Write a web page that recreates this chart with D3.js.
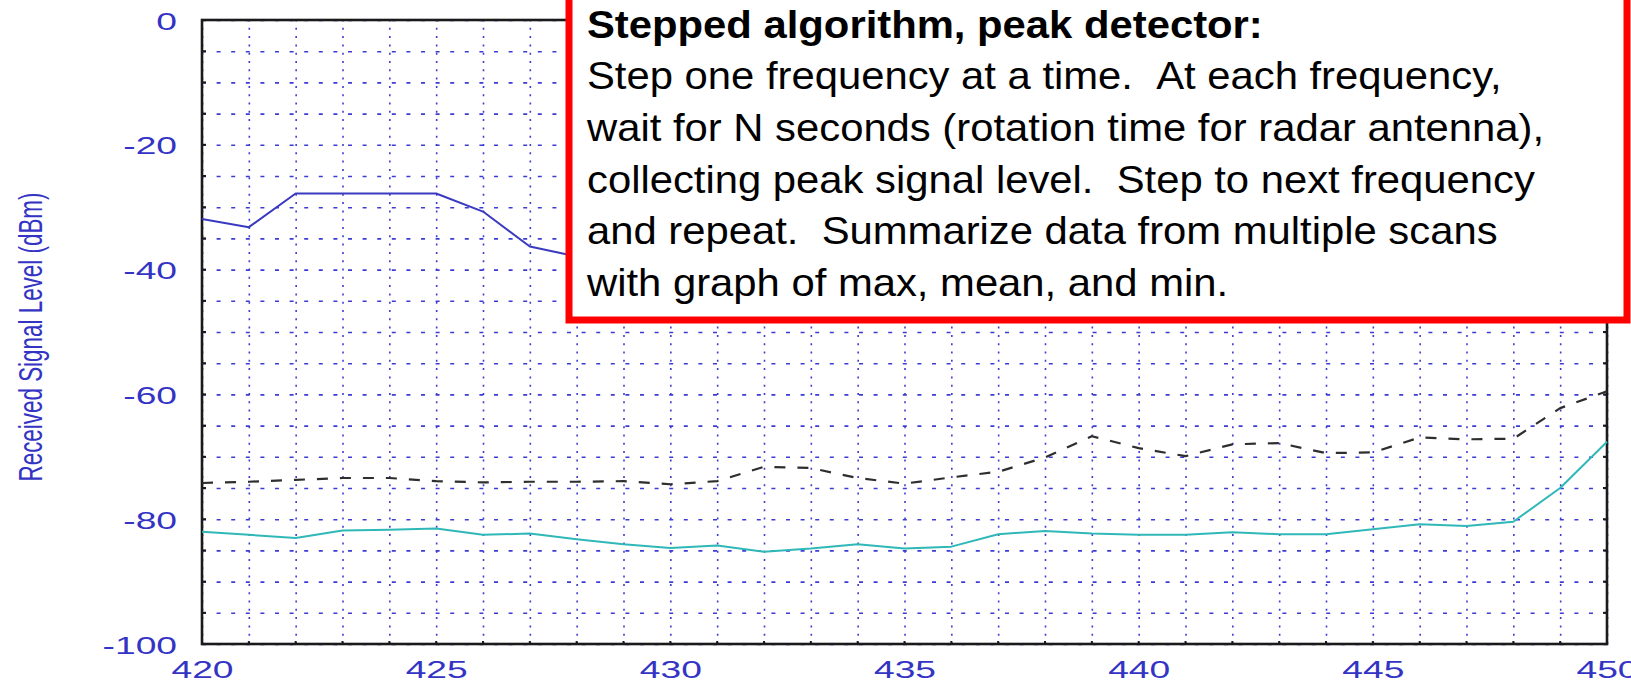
<!DOCTYPE html>
<html>
<head>
<meta charset="utf-8">
<script src="https://cdn.jsdelivr.net/npm/d3@7"></script>
<style>
html, body { margin: 0; padding: 0; background: #fff; overflow: hidden; }
svg { display: block; }
</style>
</head>
<body>
<svg class="rend_chart"></svg>
<script>
/////////////// data ////////////////
const FREQ_MHZ = [420, 421, 422, 423, 424, 425, 426, 427, 428, 429, 430,
    431, 432, 433, 434, 435, 436, 437, 438, 439, 440,
    441, 442, 443, 444, 445, 446, 447, 448, 449, 450];
// max trace: only 420..427 is visible, the rest sits behind the note box
const MAX_DBM = [-31.9, -33.2, -27.8, -27.8, -27.8, -27.8, -30.7, -36.3, -37.9, -39.0, -40.5,
    -41.0, -42.0, -41.0, -43.0, -44.0, -42.0, -41.0, -40.0, -39.0, -37.0,
    -38.0, -36.0, -37.0, -35.0, -34.0, -36.0, -35.0, -33.0, -32.0, -30.0];
const MEAN_DBM = [-74.2, -74.0, -73.7, -73.4, -73.4, -73.9, -74.1, -74.0, -74.0, -73.9, -74.4,
    -73.9, -71.6, -71.8, -73.4, -74.3, -73.3, -72.4, -70.1, -66.7, -68.6,
    -69.9, -68.0, -67.8, -69.4, -69.3, -66.9, -67.2, -67.1, -62.2, -59.5];
const MIN_DBM = [-82.0, -82.5, -83.0, -81.8, -81.7, -81.5, -82.5, -82.3, -83.2, -84.0, -84.6,
    -84.2, -85.2, -84.7, -84.0, -84.7, -84.4, -82.4, -81.9, -82.3, -82.5,
    -82.5, -82.1, -82.4, -82.4, -81.6, -80.8, -81.1, -80.4, -75.0, -67.6];
const X_TICKS = [420, 425, 430, 435, 440, 445, 450];
const Y_TICKS = [0, -20, -40, -60, -80, -100];
const Y_TITLE = "Received Signal Level (dBm)";
const NOTE_TITLE = "Stepped algorithm, peak detector:";
const NOTE_LINES = [
    "Step one frequency at a time.  At each frequency,",
    "wait for N seconds (rotation time for radar antenna),",
    "collecting peak signal level.  Step to next frequency",
    "and repeat.  Summarize data from multiple scans",
    "with graph of max, mean, and min."
];

/////////////// layout ////////////////
const SVG_W = 1631;
const SVG_H = 682;
const PLOT_L = 202;
const PLOT_R = 1607;
const PLOT_T = 20;
const PLOT_B = 644;
const LABEL_FILL = "#3434c4";
const GRID_STROKE = "#3c3cd4";
const FRAME_STROKE = "#1a1a1a";
const LABEL_FONT = "'Liberation Sans', Arial, Helvetica, sans-serif";
// the pasted chart was stretched sideways, so its digits are wide
const LABEL_STRETCH = 1.55;

const SVG = d3.select(".rend_chart")
    .attr("width", SVG_W)
    .attr("height", SVG_H);

const SCL_X = d3.scaleLinear()
    .domain([420, 450])
    .range([PLOT_L, PLOT_R]);
const SCL_Y = d3.scaleLinear()
    .domain([-100, 0])
    .range([PLOT_B, PLOT_T]);

/////////////// grid ////////////////
const GRID_GRP = SVG.append("g").attr("id", "gridGroup");
// vertical dotted lines every MHz
GRID_GRP.append("g")
    .attr("transform", `translate(0, ${PLOT_B})`)
    .call(d3.axisBottom(SCL_X).tickValues(FREQ_MHZ).tickSize(-(PLOT_B - PLOT_T)).tickFormat(""))
    .call(g => g.select(".domain").remove())
    .selectAll("line")
    .attr("stroke", GRID_STROKE)
    .attr("stroke-width", 1.6)
    .attr("stroke-dasharray", "2,6.3");
// horizontal dashed lines every 5 dB
GRID_GRP.append("g")
    .attr("transform", `translate(${PLOT_L}, 0)`)
    .call(d3.axisLeft(SCL_Y).ticks(20).tickSize(-(PLOT_R - PLOT_L)).tickFormat(""))
    .call(g => g.select(".domain").remove())
    .selectAll("line")
    .attr("stroke", GRID_STROKE)
    .attr("stroke-width", 1.6)
    .attr("stroke-dasharray", "4,10.6");

/////////////// frame and small inner ticks ////////////////
const FRAME_GRP = SVG.append("g").attr("id", "frameGroup");
FRAME_GRP.append("rect")
    .attr("x", PLOT_L)
    .attr("y", PLOT_T)
    .attr("width", PLOT_R - PLOT_L)
    .attr("height", PLOT_B - PLOT_T)
    .attr("fill", "none")
    .attr("stroke", FRAME_STROKE)
    .attr("stroke-width", 2.6);
FRAME_GRP.selectAll(".tickL")
    .data(SCL_Y.ticks(20))
    .enter()
    .append("line")
    .attr("x1", PLOT_L).attr("x2", PLOT_L + 4)
    .attr("y1", d => SCL_Y(d)).attr("y2", d => SCL_Y(d))
    .attr("stroke", FRAME_STROKE).attr("stroke-width", 2);
FRAME_GRP.selectAll(".tickR")
    .data(SCL_Y.ticks(20))
    .enter()
    .append("line")
    .attr("x1", PLOT_R - 4).attr("x2", PLOT_R)
    .attr("y1", d => SCL_Y(d)).attr("y2", d => SCL_Y(d))
    .attr("stroke", FRAME_STROKE).attr("stroke-width", 2);
FRAME_GRP.selectAll(".tickB")
    .data(FREQ_MHZ)
    .enter()
    .append("line")
    .attr("x1", d => SCL_X(d)).attr("x2", d => SCL_X(d))
    .attr("y1", PLOT_B - 3).attr("y2", PLOT_B)
    .attr("stroke", FRAME_STROKE).attr("stroke-width", 2);

/////////////// tick labels ////////////////
// plain hyphen for the minus sign, as on the original plot
const FMT_TICK = d => String(d);
const X_AXIS = SVG.append("g")
    .attr("transform", `translate(0, ${PLOT_B})`)
    .call(d3.axisBottom(SCL_X).tickValues(X_TICKS).tickSize(0).tickPadding(0).tickFormat(FMT_TICK));
X_AXIS.select(".domain").remove();
X_AXIS.selectAll("text")
    .attr("y", 34)
    .attr("dy", null)
    .attr("transform", `scale(${LABEL_STRETCH}, 1)`)
    .attr("fill", LABEL_FILL)
    .attr("font-family", LABEL_FONT)
    .attr("font-size", 24);

const Y_AXIS = SVG.append("g")
    .attr("transform", `translate(${PLOT_L}, 0)`)
    .call(d3.axisLeft(SCL_Y).tickValues(Y_TICKS).tickSize(0).tickPadding(0).tickFormat(FMT_TICK));
Y_AXIS.select(".domain").remove();
Y_AXIS.selectAll("text")
    .attr("x", -25 / LABEL_STRETCH)
    .attr("dy", null)
    .attr("y", 9)
    .attr("transform", `scale(${LABEL_STRETCH}, 1)`)
    .attr("fill", LABEL_FILL)
    .attr("font-family", LABEL_FONT)
    .attr("font-size", 24);

SVG.append("text")
    .attr("transform", `translate(42, 337) rotate(-90)`)
    .attr("text-anchor", "middle")
    .attr("font-family", LABEL_FONT)
    .attr("font-size", 34)
    .attr("fill", LABEL_FILL)
    .attr("textLength", 289)
    .attr("lengthAdjust", "spacingAndGlyphs")
    .text(Y_TITLE);

/////////////// traces ////////////////
const LINE = d3.line()
    .x(d => SCL_X(d[0]))
    .y(d => SCL_Y(d[1]));
const TRACES = [
    { vals: MAX_DBM, stroke: "#3a3ac0", dash: null, w: 2 },
    { vals: MEAN_DBM, stroke: "#2e2e2e", dash: "11,12", w: 2.2 },
    { vals: MIN_DBM, stroke: "#30b8b8", dash: null, w: 2 }
];
const TRACE_GRP = SVG.append("g").attr("id", "traceGroup");
TRACES.forEach(t => {
    TRACE_GRP.append("path")
        .datum(d3.zip(FREQ_MHZ, t.vals))
        .attr("d", LINE)
        .attr("fill", "none")
        .attr("stroke", t.stroke)
        .attr("stroke-width", t.w)
        .attr("stroke-dasharray", t.dash)
        .attr("stroke-linejoin", "round");
});

/////////////// note box ////////////////
const NOTE_GRP = SVG.append("g").attr("id", "noteGroup");
NOTE_GRP.append("rect")
    .attr("x", 569)
    .attr("y", -20)
    .attr("width", 1058)
    .attr("height", 340)
    .attr("fill", "#fff")
    .attr("stroke", "#ff0000")
    .attr("stroke-width", 7);
const NOTE_STRETCH = 1.1;
const NOTE_TXT = NOTE_GRP.append("g")
    .attr("transform", `translate(587, 0) scale(${NOTE_STRETCH}, 1)`)
    .attr("font-family", LABEL_FONT)
    .attr("font-size", 38)
    .attr("fill", "#000");
NOTE_TXT.append("text")
    .attr("y", 38)
    .attr("font-weight", "bold")
    .text(NOTE_TITLE);
// keep the double spaces after full stops
NOTE_TXT.selectAll(".noteLine")
    .data(NOTE_LINES)
    .enter()
    .append("text")
    .attr("class", "noteLine")
    .attr("xml:space", "preserve")
    .attr("y", (d, i) => 89.5 + i * 51.6)
    .text(d => d.replace(/  /g, " \u00a0"));
</script>
</body>
</html>
